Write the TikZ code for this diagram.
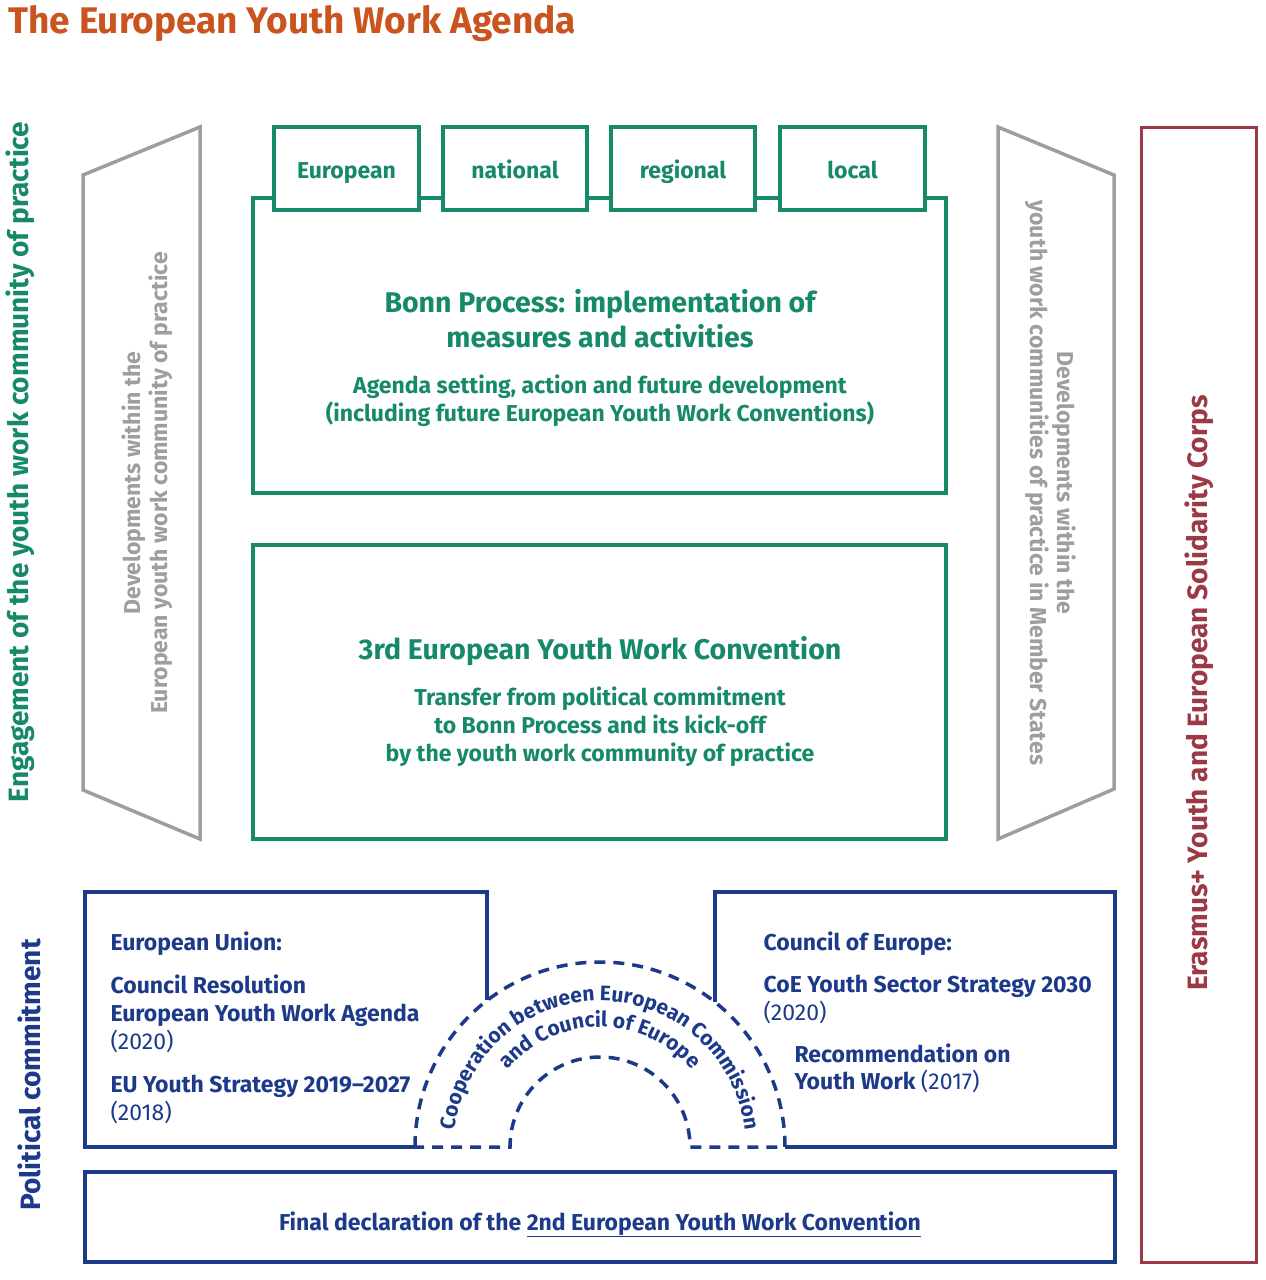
\documentclass[tikz,border=0pt]{standalone}
\usepackage{fontspec}
\setmainfont{Fira Sans}
\usetikzlibrary{decorations.text}
\definecolor{cgreen}{HTML}{17896B}
\definecolor{cblue}{HTML}{1D3A8A}
\definecolor{cred}{HTML}{9B3A44}
\definecolor{cgray}{HTML}{9E9E9E}
\definecolor{corange}{HTML}{C9541E}
\newcommand\fsz[2]{\fontsize{#1}{#2}\selectfont}
\newcommand\arcfont{\bfseries\fsz{21}{25}}
\begin{document}
\begin{tikzpicture}[x=1pt,y=-1pt,
  greenline/.style={draw=cgreen, line width=3.5pt},
  grayline/.style={draw=cgray, line width=3.5pt},
  blueline/.style={draw=cblue, line width=3.5pt},
  redline/.style={draw=cred, line width=3pt},
  dashline/.style={draw=cblue, line width=3.5pt, dash pattern=on 11pt off 8pt},
  tabtxt/.style={anchor=base, text=cgreen, font=\bfseries\fsz{23}{27}},
  greenhead/.style={anchor=base, text=cgreen, font=\bfseries\fsz{28.5}{33}},
  greensub/.style={anchor=base, text=cgreen, font=\bfseries\fsz{23}{27}},
  graytxt/.style={text=cgray, font=\bfseries\fsz{23}{27}, align=center},
  sidetxt/.style={font=\bfseries\fsz{28}{33}},
  bluetxt/.style={anchor=base west, text=cblue, font=\bfseries\fsz{23}{27}},
  bluereg/.style={anchor=base west, text=cblue, font=\fsz{23}{27}},
]
\useasboundingbox (0,0) rectangle (1266,1280);

% title
\node[anchor=base west, text=corange, font=\bfseries\fsz{37}{44}] (title) at (5,33) {The European Youth Work Agenda};

% side labels
\node[sidetxt, text=cgreen, rotate=90] (engage) at (20,462) {Engagement of the youth work community of practice};
\node[sidetxt, text=cblue, rotate=90] (polit) at (29,1075) {Political commitment};

% gray trapezoids
\draw[grayline, line join=miter] (83,175) -- (200,127) -- (200,839) -- (83,790) -- cycle;
\draw[grayline, line join=miter] (998,127) -- (1114,175) -- (1114,789) -- (998,839) -- cycle;
\node[graytxt, rotate=90] (devL) at (147,483) {Developments within the\\European youth work community of practice};
\node[graytxt, rotate=-90] (devR) at (1051,483) {Developments within the\\youth work communities of practice in Member States};

% red box
\draw[redline] (1141,127) rectangle (1256,1262);
\node[sidetxt, text=cred, rotate=90] (erasmus) at (1199,693) {Erasmus+ Youth and European Solidarity Corps};

% green Bonn box with tabs
\draw[greenline] (253,198) rectangle (946,493);
\foreach \xa/\xb/\nm/\lab in {274/419/tEu/European, 443/587/tNa/national, 611/755/tRe/regional, 780/925/tLo/local}{
  \draw[greenline, fill=white] (\xa,127) rectangle (\xb,210);
  \node[tabtxt] (\nm) at ({(\xa+\xb)/2},178) {\lab};
}
\node[greenhead] (bonn1) at (600,312) {Bonn Process: implementation of};
\node[greenhead] (bonn2) at (600,347) {measures and activities};
\node[greensub] (bonn3) at (600,393) {Agenda setting, action and future development};
\node[greensub] (bonn4) at (600,421) {(including future European Youth Work Conventions)};

% 3rd convention box
\draw[greenline] (253,545) rectangle (946,839);
\node[greenhead] (conv1) at (600,659) {3rd European Youth Work Convention};
\node[greensub] (conv2) at (600,705) {Transfer from political commitment};
\node[greensub] (conv3) at (600,733) {to Bonn Process and its kick-off};
\node[greensub] (conv4) at (600,761) {by the youth work community of practice};

% blue boxes
\draw[blueline, line join=miter] (487,1000) -- (487,892) -- (85,892) -- (85,1147) -- (415,1147);
\draw[blueline, line join=miter] (715,1002) -- (715,892) -- (1115,892) -- (1115,1147) -- (785,1147);
\draw[blueline] (85,1172) rectangle (1115,1262);

% dashed arch
\draw[dashline] (415,1147) arc[start angle=180, end angle=360, radius=185]
  -- (690,1147) arc[start angle=360, end angle=180, radius=90] -- cycle;
\path[decorate, decoration={text along path, text align=center, text color=cblue,
  text={|\arcfont|Cooperation between European Commission}}]
  (454,1147) arc[start angle=180, end angle=360, radius=146];
\path[decorate, decoration={text along path, text align=center, text color=cblue,
  text={|\arcfont|and Council of Europe}}]
  (480,1147) arc[start angle=180, end angle=360, radius=120];

% EU text
\node[bluetxt] (eu1) at (107,950) {European Union:};
\node[bluetxt] (eu2) at (107,993) {Council Resolution};
\node[bluetxt] (eu3) at (107,1021) {European Youth Work Agenda};
\node[bluereg] (eu4) at (107,1049) {(2020)};
\node[bluetxt] (eu5) at (107,1092) {EU Youth Strategy 2019–2027};
\node[bluereg] (eu6) at (107,1120) {(2018)};

% CoE text
\node[bluetxt] (coe1) at (760,950) {Council of Europe:};
\node[bluetxt] (coe2) at (760,992) {CoE Youth Sector Strategy 2030};
\node[bluereg] (coe3) at (760,1020) {(2020)};
\node[bluetxt] (coe4) at (791,1062) {Recommendation on};
\node[bluetxt] (coe5) at (791,1089) {Youth Work \mdseries(2017)};

% final declaration
\node[anchor=base, text=cblue, font=\bfseries\fsz{23}{27}] (final) at (600,1230) {Final declaration of the \underline{2nd European Youth Work Convention}};
\end{tikzpicture}
\end{document}
